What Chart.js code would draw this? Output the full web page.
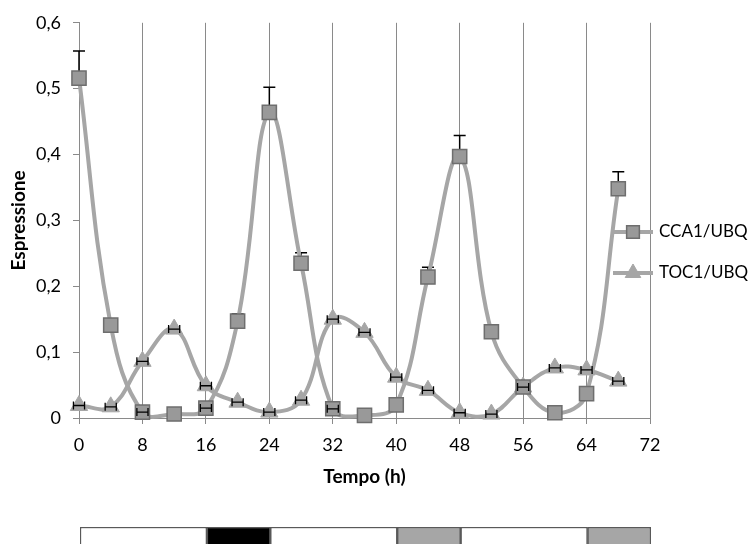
<!DOCTYPE html>
<html><head><meta charset="utf-8">
<script src="https://cdn.jsdelivr.net/npm/chart.js@4"></script>
<style>
html,body{margin:0;padding:0;background:#fff;overflow:hidden;}
#wrap{position:relative;width:751px;height:544px;}
#main{position:absolute;left:0;top:0;}
#bar{position:absolute;left:0;top:527px;}
</style></head><body>
<div id="wrap"><canvas id="main" width="751" height="544"></canvas><canvas id="bar" width="751" height="30"></canvas></div>
<script>
// ---- data ----
const hours = [0,4,8,12,16,20,24,28,32,36,40,44,48,52,56,60,64,68];
const cca1 = [0.516,0.141,0.009,0.006,0.015,0.147,0.464,0.235,0.014,0.004,0.020,0.214,0.397,0.131,0.047,0.008,0.037,0.348];
const cca1ErrUp = [0.041,0,0,0,0,0.011,0.038,0.016,0,0,0,0.015,0.032,0,0,0,0,0.026];
const cca1ErrX = [0,0,0.7,0,0.7,0,0,0,0.7,0,0,0,0,0,0,0,0,0];
const toc1 = [0.019,0.017,0.086,0.135,0.049,0.024,0.009,0.027,0.150,0.130,0.062,0.042,0.008,0.006,0.047,0.076,0.073,0.056];
const toc1ErrX = [0.7,0.7,0.7,0.7,0.7,0.7,0.7,0.7,0.7,0.7,0.7,0.7,0.7,0.7,0.7,0.7,0.7,0.7];
const seriesNames = ['CCA1/UBQ','TOC1/UBQ'];
const xTicks = [0,8,16,24,32,40,48,56,64,72];
const yTickLabels = ['0','0,1','0,2','0,3','0,4','0,5','0,6'];
const xTitle = 'Tempo (h)';
const yTitle = 'Espressione';
const phaseHours = [16,8,16,8,16,8];
const phaseType = ['light','dark','light','subjective','light','subjective'];

// ---- style ----
const FONT = 'Lato';
const LINE = '#a6a6a6';
const GRID = '#8a8a8a';
const phaseColor = {light:'#ffffff', dark:'#000000', subjective:'#a6a6a6'};

const pts = (vals) => hours.map((h,i)=>({x:h, y:vals[i]}));

const seriesStyle = [
  {pointStyle:'rect', pointRadius:10, pointBackgroundColor:'#999999', pointBorderColor:'#6e6e6e', pointBorderWidth:1.5},
  {pointStyle:'triangle', pointRadius:10, pointBackgroundColor:'#a6a6a6', pointBorderColor:'#a6a6a6', pointBorderWidth:1}
];

const errorBars = {
  id:'errorBars',
  beforeDatasetsDraw(chart){
    const {ctx, scales:{x,y}} = chart;
    ctx.save();
    ctx.strokeStyle='#000'; ctx.lineWidth=1.5;
    hours.forEach((h,i)=>{
      const e = cca1ErrUp[i];
      if (!e) return;
      const px = x.getPixelForValue(h), y0 = y.getPixelForValue(cca1[i]), y1 = y.getPixelForValue(cca1[i]+e);
      ctx.beginPath();
      ctx.moveTo(px,y0); ctx.lineTo(px,y1);
      ctx.moveTo(px-6,y1); ctx.lineTo(px+6,y1);
      ctx.stroke();
    });
    ctx.restore();
  },
  afterDatasetsDraw(chart){
    const {ctx, scales:{x,y}} = chart;
    ctx.save();
    ctx.strokeStyle='#000'; ctx.lineWidth=1.3;
    [[cca1,cca1ErrX],[toc1,toc1ErrX]].forEach(([vals,errs])=>{
      hours.forEach((h,i)=>{
        const e = errs[i];
        if (!e) return;
        const py = y.getPixelForValue(vals[i]);
        const xl = x.getPixelForValue(h-e), xr = x.getPixelForValue(h+e);
        ctx.beginPath();
        ctx.moveTo(xl,py); ctx.lineTo(xr,py);
        ctx.moveTo(xl,py-4); ctx.lineTo(xl,py+4);
        ctx.moveTo(xr,py-4); ctx.lineTo(xr,py+4);
        ctx.stroke();
      });
    });
    ctx.restore();
  }
};

const legendDraw = {
  id:'legendDraw',
  afterDraw(chart){
    const ctx = chart.ctx;
    const rows = [232, 273];
    ctx.save();
    chart.data.datasets.forEach((ds,i)=>{
      const yy = rows[i];
      ctx.strokeStyle = LINE; ctx.lineWidth = 4;
      ctx.beginPath(); ctx.moveTo(613,yy); ctx.lineTo(653,yy); ctx.stroke();
      const st = seriesStyle[i];
      ctx.fillStyle = st.pointBackgroundColor; ctx.strokeStyle = st.pointBorderColor; ctx.lineWidth = st.pointBorderWidth;
      Chart.helpers.drawPoint(ctx, {pointStyle:st.pointStyle, radius:st.pointRadius-1, rotation:0, borderWidth:st.pointBorderWidth}, 633, yy);
      ctx.fillStyle = '#000';
      ctx.font = '17px ' + FONT;
      ctx.textBaseline = 'middle'; ctx.textAlign = 'left';
      ctx.fillText(ds.label, 659, yy);
    });
    ctx.restore();
  }
};

new Chart(document.getElementById('main'), {
  type:'line',
  data:{
    datasets:[
      Object.assign({label:seriesNames[0], data:pts(cca1), borderColor:LINE, borderWidth:4, tension:0.4, fill:false, clip:false}, seriesStyle[0]),
      Object.assign({label:seriesNames[1], data:pts(toc1), borderColor:LINE, borderWidth:4, tension:0.4, fill:false, clip:false}, seriesStyle[1])
    ]
  },
  options:{
    responsive:false, animation:false, events:[],
    layout:{padding:{left:0, right:101, top:12, bottom:0}},
    plugins:{legend:{display:false}, tooltip:{enabled:false}},
    elements:{line:{capBezierPoints:false}},
    scales:{
      x:{
        type:'linear', min:0, max:72,
        afterBuildTicks(s){ s.ticks = xTicks.map(v=>({value:v})); },
        afterFit(s){ s.height = 126; },
        ticks:{font:{family:FONT,size:18}, color:'#000', padding:10, maxRotation:0, autoSkip:false},
        grid:{color:GRID, lineWidth:1, tickLength:6, drawTicks:true},
        border:{color:GRID, width:1},
        title:{display:true, text:xTitle, font:{family:FONT,size:19,weight:'bold'}, color:'#000', padding:{top:0,bottom:56}}
      },
      y:{
        type:'linear', min:0, max:0.6,
        afterBuildTicks(s){ s.ticks = yTickLabels.map((l,i)=>({value:i/10})); },
        afterFit(s){ s.width = 79; },
        ticks:{font:{family:FONT,size:18}, color:'#000', padding:12, callback:(v,i)=>yTickLabels[i]},
        grid:{drawOnChartArea:false, color:GRID, tickLength:6},
        border:{color:GRID, width:1},
        title:{display:true, text:yTitle, font:{family:FONT,size:19,weight:'bold'}, color:'#000', padding:{top:7,bottom:0}}
      }
    }
  },
  plugins:[errorBars, legendDraw]
});

new Chart(document.getElementById('bar'), {
  type:'bar',
  data:{
    labels:[''],
    datasets: phaseHours.map((h,i)=>({data:[h], backgroundColor:phaseColor[phaseType[i]], borderColor:'#595959', borderWidth:1.5, borderSkipped:false, barPercentage:1, categoryPercentage:1}))
  },
  options:{
    indexAxis:'y', responsive:false, animation:false, events:[],
    layout:{padding:{left:80, right:100, top:0, bottom:0}},
    plugins:{legend:{display:false}, tooltip:{enabled:false}},
    scales:{x:{stacked:true, min:0, max:72, display:false}, y:{stacked:true, display:false}}
  }
});
</script>
</body></html>
